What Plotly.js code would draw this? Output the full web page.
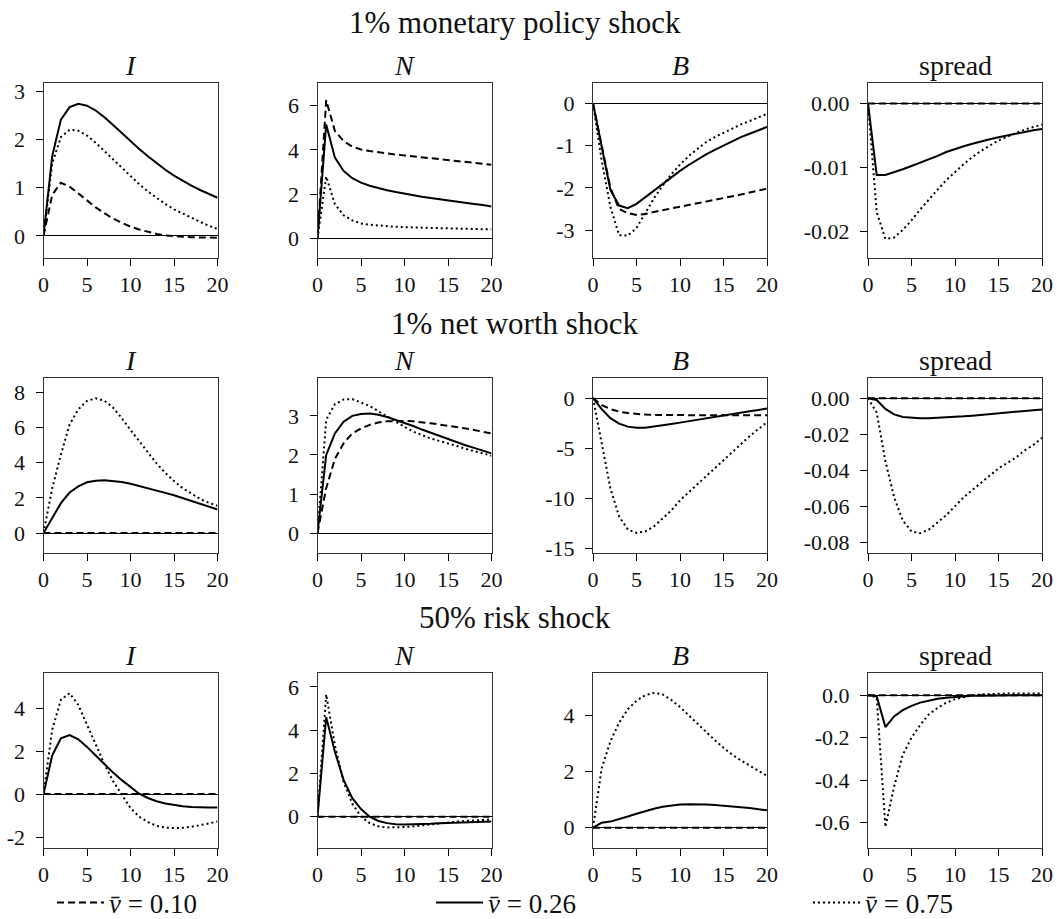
<!DOCTYPE html>
<html>
<head>
<meta charset="utf-8">
<script src="https://cdn.plot.ly/plotly-3.0.1.min.js"></script>
<style>
html,body{margin:0;padding:0;background:#fff;}
#chart{width:1057px;height:919px;}
</style>
</head>
<body>
<div id="chart"></div>
<script>
// ---------------- data ----------------
const periods = [0,1,2,3,4,5,6,7,8,9,10,11,12,13,14,15,16,17,18,19,20];
const seriesNames = ['<i>v\u0304</i> = 0.10', '<i>v\u0304</i> = 0.26', '<i>v\u0304</i> = 0.75'];
const shockTitles = ['1% monetary policy shock', '1% net worth shock', '50% risk shock'];
const panelTitles = ['<i>I</i>', '<i>N</i>', '<i>B</i>', 'spread'];

// 1% monetary policy shock
const mon_I_010 = [0,0.85,1.10,1.02,0.88,0.73,0.59,0.47,0.36,0.27,0.19,0.13,0.08,0.04,0.01,-0.01,-0.02,-0.03,-0.035,-0.04,-0.04];
const mon_I_026 = [0,1.65,2.41,2.67,2.74,2.70,2.60,2.46,2.30,2.13,1.96,1.80,1.65,1.51,1.37,1.25,1.14,1.04,0.95,0.87,0.79];
const mon_I_075 = [0,1.50,2.05,2.20,2.18,2.08,1.93,1.76,1.58,1.40,1.23,1.07,0.92,0.79,0.66,0.55,0.46,0.37,0.29,0.21,0.14];
const mon_N_010 = [0,6.25,4.85,4.40,4.15,4.02,3.95,3.89,3.84,3.79,3.75,3.71,3.67,3.63,3.59,3.55,3.51,3.47,3.43,3.39,3.33];
const mon_N_026 = [0,5.15,3.65,3.05,2.72,2.52,2.38,2.27,2.18,2.10,2.02,1.95,1.89,1.83,1.77,1.72,1.66,1.61,1.56,1.51,1.45];
const mon_N_075 = [0,2.80,1.55,1.05,0.82,0.68,0.62,0.58,0.55,0.53,0.51,0.50,0.49,0.48,0.47,0.46,0.45,0.44,0.43,0.42,0.41];
const mon_B_010 = [0,-1.00,-2.00,-2.50,-2.60,-2.64,-2.62,-2.57,-2.53,-2.49,-2.45,-2.41,-2.37,-2.33,-2.29,-2.25,-2.20,-2.16,-2.11,-2.07,-2.02];
const mon_B_026 = [0,-1.00,-2.05,-2.42,-2.48,-2.38,-2.22,-2.06,-1.90,-1.75,-1.60,-1.46,-1.33,-1.21,-1.10,-1.00,-0.90,-0.80,-0.72,-0.64,-0.56];
const mon_B_075 = [0,-1.35,-2.45,-3.12,-3.13,-2.95,-2.60,-2.25,-1.95,-1.68,-1.45,-1.25,-1.08,-0.92,-0.80,-0.70,-0.60,-0.50,-0.42,-0.33,-0.25];
const mon_S_010 = [0,0,0,0,0,0,0,0,0,0,0,0,0,0,0,0,0,0,0,0,0];
const mon_S_026 = [0,-0.0112,-0.0112,-0.0108,-0.0103,-0.0098,-0.0093,-0.0088,-0.0082,-0.0076,-0.0071,-0.0067,-0.0063,-0.0059,-0.0056,-0.0053,-0.0050,-0.0047,-0.0044,-0.0042,-0.0040];
const mon_S_075 = [0,-0.0170,-0.0212,-0.0210,-0.0198,-0.0183,-0.0166,-0.0150,-0.0135,-0.0120,-0.0107,-0.0095,-0.0084,-0.0074,-0.0066,-0.0058,-0.0052,-0.0046,-0.0041,-0.0037,-0.0033];

// 1% net worth shock
const nw_I_010 = [0,0,0,0,0,0,0,0,0,0,0,0,0,0,0,0,0,0,0,0,0];
const nw_I_026 = [0,0.88,1.70,2.30,2.65,2.88,2.97,3.00,2.97,2.90,2.80,2.68,2.55,2.42,2.28,2.15,1.99,1.83,1.67,1.50,1.34];
const nw_I_075 = [0,2.54,4.45,6.16,7.02,7.50,7.65,7.52,7.12,6.52,5.85,5.20,4.55,3.95,3.42,2.95,2.55,2.22,1.94,1.72,1.55];
const nw_N_010 = [0,1.15,1.90,2.30,2.55,2.68,2.77,2.83,2.86,2.87,2.87,2.86,2.84,2.81,2.78,2.75,2.72,2.68,2.64,2.60,2.55];
const nw_N_026 = [0,2.00,2.55,2.85,3.00,3.05,3.06,3.03,2.97,2.90,2.82,2.74,2.65,2.57,2.48,2.40,2.32,2.25,2.18,2.11,2.04];
const nw_N_075 = [0,2.90,3.30,3.42,3.43,3.35,3.25,3.12,2.98,2.85,2.72,2.60,2.50,2.42,2.36,2.30,2.23,2.16,2.10,2.04,1.98];
const nw_B_010 = [0,-0.70,-1.10,-1.35,-1.50,-1.60,-1.65,-1.68,-1.70,-1.71,-1.71,-1.71,-1.71,-1.71,-1.71,-1.71,-1.71,-1.71,-1.71,-1.71,-1.71];
const nw_B_026 = [0,-1.10,-2.00,-2.55,-2.85,-2.95,-2.95,-2.85,-2.72,-2.58,-2.45,-2.30,-2.15,-2.00,-1.85,-1.72,-1.58,-1.45,-1.32,-1.20,-1.03];
const nw_B_075 = [0,-4.50,-9.00,-11.80,-13.10,-13.45,-13.30,-12.80,-12.00,-11.20,-10.20,-9.40,-8.60,-7.70,-6.90,-6.10,-5.30,-4.60,-3.80,-3.10,-2.40];
const nw_S_010 = [0,0,0,0,0,0,0,0,0,0,0,0,0,0,0,0,0,0,0,0,0];
const nw_S_026 = [0,-0.0010,-0.0060,-0.0090,-0.0105,-0.0110,-0.0112,-0.0112,-0.0110,-0.0107,-0.0104,-0.0101,-0.0097,-0.0093,-0.0089,-0.0085,-0.0081,-0.0076,-0.0072,-0.0068,-0.0063];
const nw_S_075 = [0,-0.008,-0.035,-0.055,-0.068,-0.074,-0.075,-0.073,-0.069,-0.065,-0.060,-0.055,-0.051,-0.047,-0.043,-0.039,-0.036,-0.033,-0.029,-0.026,-0.022];

// 50% risk shock
const rk_I_010 = [0,0,0,0,0,0,0,0,0,0,0,0,0,0,0,0,0,0,0,0,0];
const rk_I_026 = [0,1.80,2.60,2.75,2.55,2.20,1.80,1.40,1.00,0.65,0.35,0.02,-0.18,-0.33,-0.44,-0.52,-0.57,-0.60,-0.62,-0.62,-0.62];
const rk_I_075 = [0,3.00,4.40,4.70,4.15,3.25,2.30,1.40,0.60,-0.05,-0.65,-1.05,-1.30,-1.48,-1.56,-1.58,-1.57,-1.52,-1.45,-1.37,-1.27];
const rk_N_010 = [0,0,0,0,0,0,0,0,0,0,0,0,0,0,0,0,0,0,0,0,0];
const rk_N_026 = [0,4.60,3.00,1.70,0.85,0.35,0.00,-0.20,-0.30,-0.35,-0.36,-0.36,-0.35,-0.33,-0.31,-0.30,-0.28,-0.26,-0.25,-0.23,-0.22];
const rk_N_075 = [0,5.65,3.30,1.60,0.60,0.00,-0.30,-0.45,-0.50,-0.50,-0.48,-0.45,-0.40,-0.35,-0.30,-0.27,-0.23,-0.20,-0.17,-0.15,-0.13];
const rk_B_010 = [0,0,0,0,0,0,0,0,0,0,0,0,0,0,0,0,0,0,0,0,0];
const rk_B_026 = [0,0.18,0.22,0.30,0.40,0.50,0.60,0.68,0.75,0.80,0.83,0.84,0.84,0.83,0.81,0.79,0.76,0.73,0.70,0.66,0.62];
const rk_B_075 = [0,2.12,3.08,3.74,4.22,4.52,4.72,4.80,4.75,4.55,4.30,4.00,3.70,3.40,3.12,2.85,2.60,2.40,2.20,2.03,1.85];
const rk_S_010 = [0,0,0,0,0,0,0,0,0,0,0,0,0,0,0,0,0,0,0,0,0];
const rk_S_026 = [0,-0.005,-0.150,-0.100,-0.070,-0.050,-0.035,-0.025,-0.017,-0.012,-0.008,-0.005,-0.003,-0.002,-0.001,0,0,0,0,0,0];
const rk_S_075 = [0,-0.010,-0.620,-0.430,-0.280,-0.200,-0.140,-0.090,-0.060,-0.035,-0.019,-0.008,0.000,0.004,0.006,0.007,0.008,0.008,0.008,0.008,0.008];

// tick values / labels
const xTickVals = [0,5,10,15,20];
const xTickText = ['0','5','10','15','20'];
const yTicks = [
  [ {v:[0,1,2,3], t:['0','1','2','3']},
    {v:[0,2,4,6], t:['0','2','4','6']},
    {v:[0,-1,-2,-3], t:['0','-1','-2','-3']},
    {v:[0,-0.01,-0.02], t:['0.00','-0.01','-0.02']} ],
  [ {v:[0,2,4,6,8], t:['0','2','4','6','8']},
    {v:[0,1,2,3], t:['0','1','2','3']},
    {v:[0,-5,-10,-15], t:['0','-5','-10','-15']},
    {v:[0,-0.02,-0.04,-0.06,-0.08], t:['0.00','-0.02','-0.04','-0.06','-0.08']} ],
  [ {v:[-2,0,2,4], t:['-2','0','2','4']},
    {v:[0,2,4,6], t:['0','2','4','6']},
    {v:[0,2,4], t:['0','2','4']},
    {v:[0,-0.2,-0.4,-0.6], t:['0.0','-0.2','-0.4','-0.6']} ]
];

const grid = [
  [[mon_I_010,mon_I_026,mon_I_075],[mon_N_010,mon_N_026,mon_N_075],[mon_B_010,mon_B_026,mon_B_075],[mon_S_010,mon_S_026,mon_S_075]],
  [[nw_I_010,nw_I_026,nw_I_075],[nw_N_010,nw_N_026,nw_N_075],[nw_B_010,nw_B_026,nw_B_075],[nw_S_010,nw_S_026,nw_S_075]],
  [[rk_I_010,rk_I_026,rk_I_075],[rk_N_010,rk_N_026,rk_N_075],[rk_B_010,rk_B_026,rk_B_075],[rk_S_010,rk_S_026,rk_S_075]]
];

// ---------------- layout config ----------------
const W = 1057, H = 919;
const FONT = 'Liberation Serif, Times New Roman, serif';
const colPx = [[43.5,217.5],[317.5,491.5],[593,767],[868,1042]];
const rowPx = [[83,258],[378,553],[673,848]];
const yRanges = [
  [[-0.46,3.17],[-0.88,7.02],[-3.66,0.48],[-0.0242,0.0032]],
  [[-1.13,8.8],[-0.51,3.97],[-15.45,2.0],[-0.086,0.0112]],
  [[-2.51,5.64],[-1.45,6.64],[-0.72,5.51],[-0.719,0.1045]]
];
const rowTitleY = [23, 323, 617];
const panelTitleY = [65, 360, 655];
const titleCenterX = 515;

const styles = [
  {dash:'7px,4px', width:2},
  {dash:'solid', width:2},
  {dash:'2px,3px', width:2}
];
const legendIds = ['legend','legend2','legend3'];

const traces = [];
const layout = {
  width: W, height: H,
  margin: {l:0, r:0, t:0, b:0, autoexpand:false},
  paper_bgcolor: '#fff', plot_bgcolor: '#fff',
  font: {family: FONT, color: '#111', size: 22},
  annotations: [],
  showlegend: true
};

let k = 0;
for (let r = 0; r < 3; r++) {
  layout.annotations.push({
    text: shockTitles[r], xref:'paper', yref:'paper',
    x: titleCenterX / W, y: 1 - rowTitleY[r] / H,
    xanchor:'center', yanchor:'middle', showarrow:false,
    font:{family:FONT, size:31, color:'#111'}
  });
  for (let c = 0; c < 4; c++) {
    k++;
    const xa = 'xaxis' + (k === 1 ? '' : k);
    const ya = 'yaxis' + (k === 1 ? '' : k);
    const xr = 'x' + (k === 1 ? '' : k);
    const yr = 'y' + (k === 1 ? '' : k);
    layout[xa] = {
      domain: [colPx[c][0] / W, colPx[c][1] / W],
      anchor: yr, range: [0, 20],
      tickvals: xTickVals, ticktext: xTickText,
      ticks: 'outside', ticklen: 7, tickwidth: 1, tickcolor: '#000',
      showline: true, mirror: true, linecolor: '#333', linewidth: 1,
      showgrid: false, zeroline: false,
      tickfont: {family: FONT, size: 22, color: '#111'}
    };
    layout[ya] = {
      domain: [1 - rowPx[r][1] / H, 1 - rowPx[r][0] / H],
      anchor: xr, range: yRanges[r][c],
      tickvals: yTicks[r][c].v, ticktext: yTicks[r][c].t,
      ticks: 'outside', ticklen: 7, tickwidth: 1, tickcolor: '#000',
      ticklabelstandoff: 6,
      showline: true, mirror: true, linecolor: '#333', linewidth: 1,
      showgrid: false, zeroline: true, zerolinecolor: '#000', zerolinewidth: 1,
      tickfont: {family: FONT, size: 22, color: '#111'}
    };
    layout.annotations.push({
      text: panelTitles[c], xref:'paper', yref:'paper',
      x: (colPx[c][0] + colPx[c][1]) / 2 / W, y: 1 - panelTitleY[r] / H,
      xanchor:'center', yanchor:'middle', showarrow:false,
      font:{family:FONT, size:28, color:'#111'}
    });
    for (let s = 0; s < 3; s++) {
      traces.push({
        type: 'scatter', mode: 'lines',
        x: periods, y: grid[r][c][s],
        xaxis: xr, yaxis: yr,
        name: seriesNames[s],
        legend: legendIds[s],
        showlegend: (k === 1),
        line: {color: '#000', width: styles[s].width, dash: styles[s].dash},
        hoverinfo: 'skip'
      });
    }
  }
}

const legendX = [52, 431, 808];
legendIds.forEach((id, i) => {
  layout[id] = {
    xref: 'container', yref: 'container',
    x: legendX[i] / W, y: 1 - 903 / H,
    xanchor: 'left', yanchor: 'middle',
    orientation: 'h', bgcolor: 'rgba(0,0,0,0)', borderwidth: 0,
    itemwidth: 47,
    font: {family: FONT, size: 27, color: '#111'}
  };
});

Plotly.newPlot('chart', traces, layout, {staticPlot: true, displayModeBar: false});
</script>
</body>
</html>
